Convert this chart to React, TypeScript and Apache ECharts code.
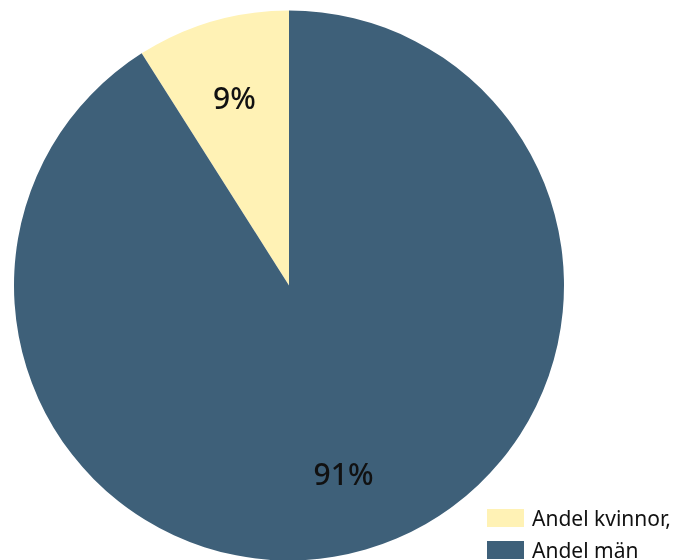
import React, { useEffect, useRef } from "react";
import * as echarts from "echarts";

const categories = ["Andel kvinnor,", "Andel män"];
const values = [9, 91];
const colors = ["#fff2b5", "#3e6079"];

export default function App() {
  const ref = useRef<HTMLDivElement>(null);
  useEffect(() => {
    if (!ref.current) return;
    const chart = echarts.init(ref.current, undefined, { renderer: "svg" });
    const data = categories.map((name, i) => ({
      name,
      value: values[i],
      itemStyle: { color: colors[i] },
    }));
    chart.setOption({
      animation: false,
      textStyle: { fontFamily: "Noto Sans" },
      legend: {
        orient: "vertical",
        left: 487,
        top: 507,
        height: 120,
        padding: 0,
        icon: "rect",
        itemWidth: 37,
        itemHeight: 18,
        itemGap: 10,
        selectedMode: false,
        data: categories,
        textStyle: {
          fontSize: 21,
          lineHeight: 22,
          color: "#111",
          fontFamily: "Noto Sans",
          padding: [0, 0, 0, 3],
        },
      },
      series: [
        {
          type: "pie",
          center: [289, 285.5],
          radius: [0, 275],
          startAngle: 90,
          clockwise: false,
          silent: true,
          label: { show: false },
          labelLine: { show: false },
          data,
        },
        {
          type: "pie",
          center: [289, 285.5],
          radius: [110, 275],
          startAngle: 90,
          clockwise: false,
          silent: true,
          itemStyle: { color: "transparent" },
          label: {
            show: true,
            position: "inside",
            formatter: "{d}%",
            fontSize: 30,
            fontWeight: 500,
            color: "#111",
            fontFamily: "Noto Sans",
          },
          labelLine: { show: false },
          data: categories.map((name, i) => ({
            name,
            value: values[i],
            itemStyle: { color: "rgba(0,0,0,0)" },
          })),
        },
      ],
    });
    return () => chart.dispose();
  }, []);
  return (
    <div
      ref={ref}
      style={{ position: "fixed", left: 0, top: 0, width: 690, height: 560 }}
    />
  );
}
